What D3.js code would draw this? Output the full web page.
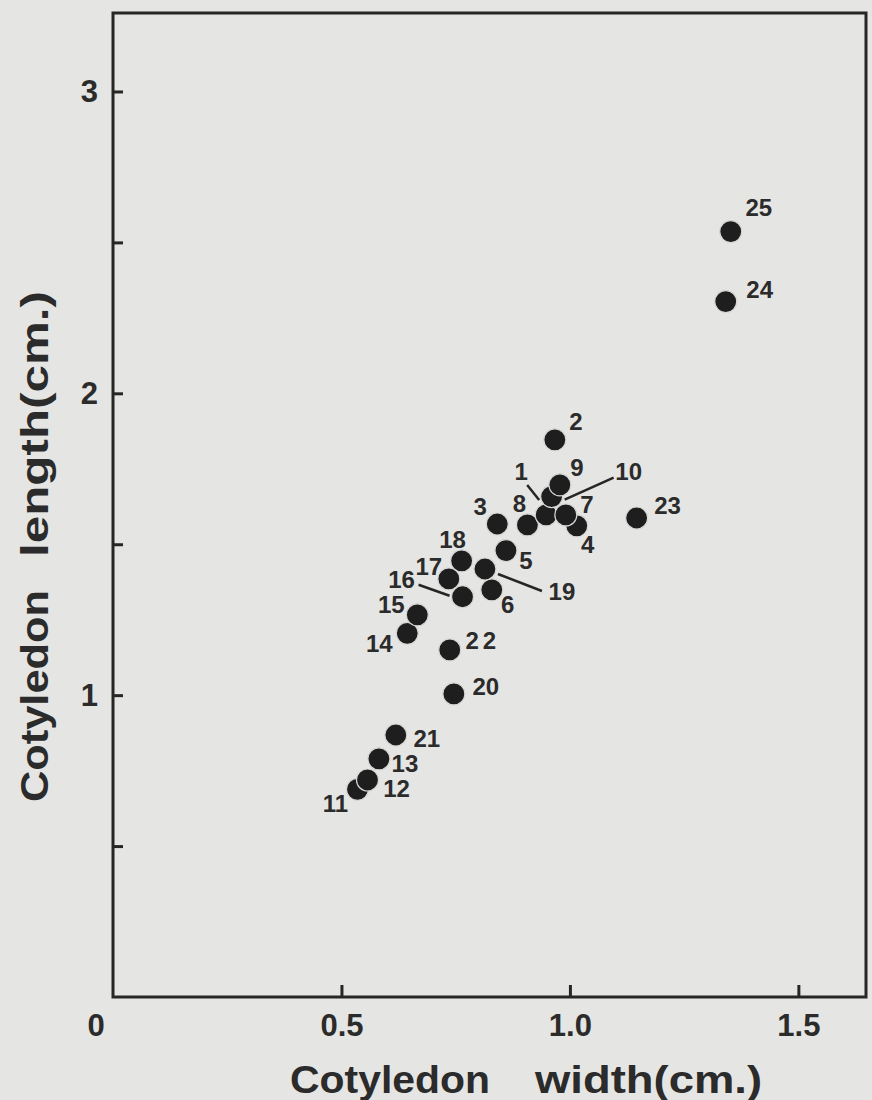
<!DOCTYPE html>
<html>
<head>
<meta charset="utf-8">
<script src="https://cdn.jsdelivr.net/npm/d3@7"></script>
<style>
  html, body { margin: 0; padding: 0; background: #e5e5e3; }
  svg { display: block; }
  text { font-family: "Liberation Sans", Arial, Helvetica, sans-serif; fill: #2b2b2b; }
</style>
</head>
<body>
<svg id="chart" width="872" height="1100"></svg>
<script>
// ---- data ----
const plantIds = [1, 2, 3, 4, 5, 6, 7, 8, 9, 10, 11, 12, 13, 14, 15, 16, 17, 18, 19, 20, 21, 22, 23, 24, 25];
const cotyledonWidth = [0.948, 0.967, 0.841, 1.015, 0.860, 0.829, 0.991, 0.907, 0.978, 0.960,
                        0.535, 0.557, 0.582, 0.644, 0.666, 0.765, 0.735, 0.763, 0.814, 0.746,
                        0.619, 0.737, 1.146, 1.341, 1.352];
const cotyledonLength = [1.597, 1.846, 1.567, 1.561, 1.479, 1.349, 1.597, 1.564, 1.697, 1.658,
                         0.688, 0.719, 0.789, 1.205, 1.266, 1.326, 1.385, 1.445, 1.418, 1.004,
                         0.868, 1.150, 1.587, 2.304, 2.536];
const xTickValues = [0.5, 1.0, 1.5];
const xTickLabels = ["0.5", "1.0", "1.5"];
const yTickValues = [0.5, 1, 1.5, 2, 2.5, 3];
const yTickLabels = ["", "1", "", "2", "", "3"];
const xTitle = ["Cotyledon", "width(cm.)"];
const yTitle = ["Cotyledon", "length(cm.)"];

// ---- layout (label offsets in px from point centre) ----
const labelOffset = {
  1: [-25, -43], 2: [21, -18], 3: [-17, -18], 4: [11, 19], 5: [20, 10],
  6: [16, 15], 7: [21, -10], 8: [-8, -21], 9: [17, -17], 10: [77, -25],
  11: [-22, 14], 12: [29, 9], 13: [26, 5], 14: [-28, 10], 15: [-26, -10],
  16: [-61, -17], 17: [-20, -12], 18: [-9, -21], 19: [77, 23], 20: [32, -7],
  21: [31, 3], 22: [33, -9], 23: [31, -12], 24: [34, -12], 25: [28, -24]
};
const leaders = {
  1: [[-19, -30], [-7, -15]],
  10: [[13, 3], [62, -19]],
  16: [[-44, -12], [-13, -1]],
  19: [[13, 5], [57, 22]]
};

const svg = d3.select("#chart");
const margin = { left: 113, right: 6, top: 13, bottom: 103 };
const W = 872, H = 1100;

const x = d3.scaleLinear().domain([0, 1.648]).range([margin.left, W - margin.right]);
const y = d3.scaleLinear().domain([0, 3.26]).range([H - margin.bottom, margin.top]);

const ink = "#262626";

// frame
svg.append("rect")
  .attr("x", x(0)).attr("y", y(3.26))
  .attr("width", x(1.648) - x(0)).attr("height", y(0) - y(3.26))
  .attr("fill", "none").attr("stroke", ink).attr("stroke-width", 3);

// axes
const xAxis = d3.axisBottom(x)
  .tickValues(xTickValues)
  .tickFormat((d, i) => xTickLabels[i])
  .tickSizeInner(-12).tickSizeOuter(0).tickPadding(17);
const gx = svg.append("g").attr("transform", `translate(0,${y(0)})`).call(xAxis);
gx.select(".domain").remove();
gx.selectAll(".tick line").attr("stroke", ink).attr("stroke-width", 3);
gx.selectAll(".tick text").attr("font-size", 31).attr("font-weight", "bold").attr("fill", "#2b2b2b");

const yAxis = d3.axisLeft(y)
  .tickValues(yTickValues)
  .tickFormat((d, i) => yTickLabels[i])
  .tickSizeInner(-10).tickSizeOuter(0).tickPadding(15);
const gy = svg.append("g").attr("transform", `translate(${x(0)},0)`).call(yAxis);
gy.select(".domain").remove();
gy.selectAll(".tick line").attr("stroke", ink).attr("stroke-width", 3);
gy.selectAll(".tick text").attr("font-size", 31).attr("font-weight", "bold").attr("fill", "#2b2b2b");

// origin label
svg.append("text")
  .attr("x", x(0) - 17).attr("y", y(0) + 28)
  .attr("text-anchor", "middle").attr("dominant-baseline", "central")
  .attr("font-size", 31).attr("font-weight", "bold")
  .text("0");

// axis titles (fitted to the spans seen in the reference)
function title(txt, len, transform) {
  svg.append("text").attr("transform", transform)
    .attr("font-size", 38).attr("font-weight", "bold")
    .attr("textLength", len).attr("lengthAdjust", "spacingAndGlyphs")
    .text(txt);
}
title(xTitle[0], 200, "translate(290,1093)");
title(xTitle[1], 227, "translate(535,1093)");
title(yTitle[0], 212, "translate(48,802) rotate(-90)");
title(yTitle[1], 266, "translate(48,557) rotate(-90)");

// points
const pts = plantIds.map((id, i) => ({ id, w: cotyledonWidth[i], l: cotyledonLength[i] }));
const drawOrder = pts.slice().sort((a, b) => a.l - b.l);

svg.append("g").selectAll("circle").data(drawOrder).join("circle")
  .attr("cx", d => x(d.w)).attr("cy", d => y(d.l)).attr("r", 11)
  .attr("fill", "#1e1e1e").attr("stroke", "#d8d8d6").attr("stroke-width", 1.2);

// leader lines
svg.append("g").selectAll("line").data(pts.filter(d => leaders[d.id])).join("line")
  .attr("x1", d => x(d.w) + leaders[d.id][0][0]).attr("y1", d => y(d.l) + leaders[d.id][0][1])
  .attr("x2", d => x(d.w) + leaders[d.id][1][0]).attr("y2", d => y(d.l) + leaders[d.id][1][1])
  .attr("stroke", ink).attr("stroke-width", 2.5);

// labels
svg.append("g").selectAll("text").data(pts).join("text")
  .attr("x", d => x(d.w) + labelOffset[d.id][0])
  .attr("y", d => y(d.l) + labelOffset[d.id][1])
  .attr("text-anchor", "middle").attr("dominant-baseline", "central")
  .attr("font-size", 24).attr("font-weight", "bold")
  .attr("letter-spacing", d => d.id === 22 ? 4 : 0)
  .text(d => d.id);
</script>
</body>
</html>
